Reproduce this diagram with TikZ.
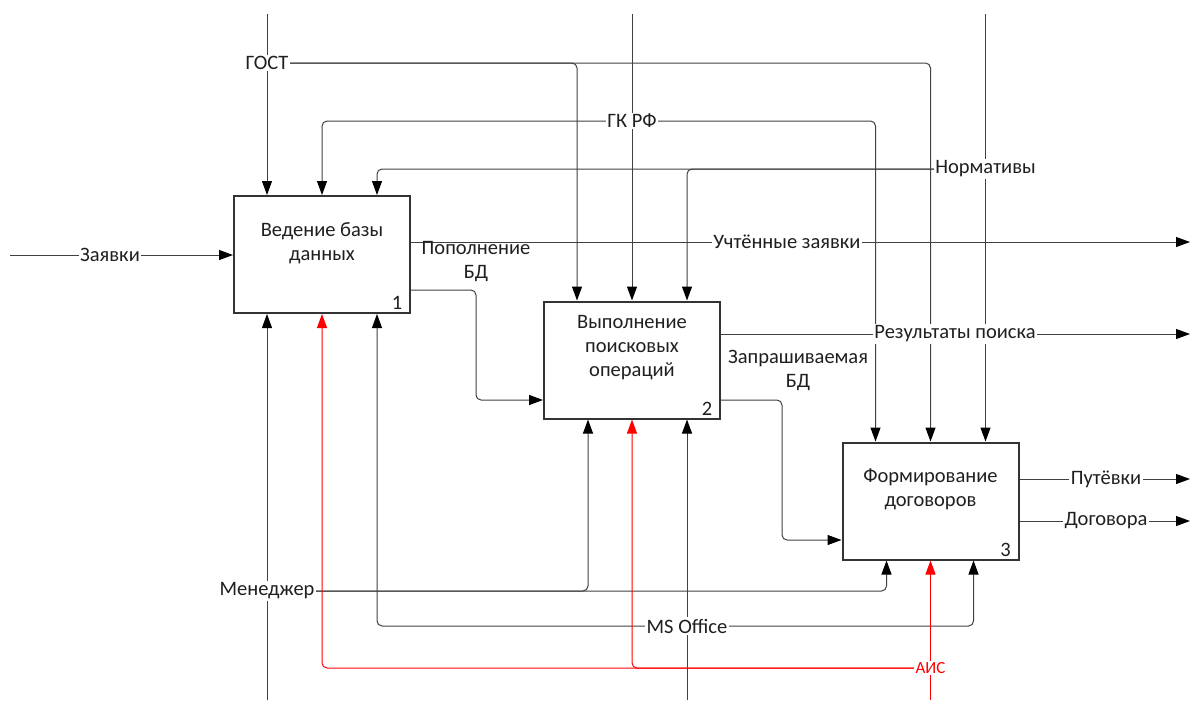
\documentclass[tikz,border=0pt]{standalone}
\usepackage{fontspec}
\setmainfont{Carlito}
\usetikzlibrary{arrows.meta,calc}
\begin{document}
\begin{tikzpicture}[x=1pt,y=-1pt,
  font=\fontsize{20.5}{24}\selectfont,
  txt/.style={text=black!88},
  conn/.style={draw=black!75, line width=1pt},
  arr/.style={conn,-{Triangle[length=14pt,width=10pt,color=black]}},
  redarr/.style={draw=red, line width=1pt,-{Triangle[length=14pt,width=10pt,color=red]}},
  rc/.style={rounded corners=5pt},
  box/.style={draw=black!80, line width=2pt, minimum width=176pt, minimum height=117pt, inner sep=0pt},
  lab/.style={txt, fill=white, inner sep=1.5pt},
  num/.style={txt, inner sep=0pt},
]
\useasboundingbox (0,0) rectangle (1193,702);

% activity boxes
\node[box] (b1) at (322,254.5) {};
\node[box] (b2) at (632,360) {};
\node[box] (b3) at (930.5,501) {};

\node[txt, align=center] (t1) at ($(b1.center)+(0,-11)$) {Ведение базы\\данных};
\node[txt, align=center] (t2) at ($(b2.center)+(0,-12)$) {Выполнение\\поисковых\\операций};
\node[txt, align=center] (t3) at ($(b3.center)+(0,-12)$) {Формирование\\договоров};

\node[num] (n1) at ($(b1.south east)+(-14,-11)$) {1};
\node[num] (n2) at ($(b2.south east)+(-14,-11)$) {2};
\node[num] (n3) at ($(b3.south east)+(-14,-11)$) {3};

% control and mechanism attachment points
\foreach \b in {1,2,3}{
  \coordinate (b\b n1) at ($(b\b.north)+(-55,0)$);
  \coordinate (b\b n2) at (b\b.north);
  \coordinate (b\b n3) at ($(b\b.north)+(55,0)$);
  \coordinate (b\b s2) at (b\b.south);
}
\coordinate (b1s1) at ($(b1.south)+(-55,0)$);
\coordinate (b1s3) at ($(b1.south)+(55,0)$);
\coordinate (b2s1) at ($(b2.south)+(-44,0)$);
\coordinate (b2s3) at ($(b2.south)+(55,0)$);
\coordinate (b3s1) at ($(b3.south)+(-44,0)$);
\coordinate (b3s3) at ($(b3.south)+(43,0)$);

% free ends and branch points
\coordinate (gT) at (267,14);    \coordinate (jG) at (267,63);
\coordinate (kT) at (632,14);    \coordinate (jK) at (632,121);
\coordinate (nT) at (985.5,14);  \coordinate (jN) at (985.5,169);
\coordinate (mB) at (267,700);   \coordinate (jM) at (267,591);
\coordinate (oB) at (687,700);   \coordinate (jO) at (687,626);
\coordinate (aB) at (930.5,700); \coordinate (jA) at (930.5,668);
\coordinate (zL) at (10,255);
\coordinate (e1) at (1190,242);
\coordinate (e2) at (1190,334);
\coordinate (e3) at (1190,479);
\coordinate (e4) at (1190,521);

% controls
\draw[arr] (gT) -- (b1n1);
\draw[arr,rc] (jG) -| (b2n1);
\draw[arr,rc] (jG) -| (b3n2);

\draw[arr] (kT) -- (b2n2);
\draw[arr,rc] (jK) -| (b1n2);
\draw[arr,rc] (jK) -| (b3n1);

\draw[arr] (nT) -- (b3n3);
\draw[arr,rc] (jN) -| (b1n3);
\draw[arr,rc] (jN) -| (b2n3);

% mechanisms
\draw[arr] (mB) -- (b1s1);
\draw[arr,rc] (jM) -| (b2s1);
\draw[arr,rc] (jM) -| (b3s1);

\draw[arr] (oB) -- (b2s3);
\draw[arr,rc] (jO) -| (b1s3);
\draw[arr,rc] (jO) -| (b3s3);

\draw[redarr] (aB) -- (b3s2);
\draw[redarr,rc] (jA) -| (b2s2);
\draw[redarr,rc] (jA) -| (b1s2);

% inputs and outputs
\draw[arr] (zL) -- (zL -| b1.west);
\draw[arr] (b1.east |- e1) -- (e1);
\draw[arr,rc] (b1.east |- 0,290) -- (476,290) -- (476,400) -- (b2.west |- 0,400);
\draw[arr] (b2.east |- e2) -- (e2);
\draw[arr,rc] (b2.east |- 0,400) -- (782,400) -- (782,540) -- (b3.west |- 0,540);
\draw[arr] (b3.east |- e3) -- (e3);
\draw[arr] (b3.east |- e4) -- (e4);

% arrow labels
\node[lab] (lG) at (jG) {ГОСТ};
\node[lab] (lK) at (jK) {ГК РФ};
\node[lab] (lN) at (jN) {Нормативы};
\node[lab] (lM) at (jM) {Менеджер};
\node[lab] (lO) at (jO) {MS Office};
\node[lab, text=red, font=\fontsize{17}{20}\selectfont] (lA) at (jA) {АИС};
\node[lab] (lZ) at (110,255) {Заявки};
\node[lab] (lU) at (787,242) {Учтённые заявки};
\node[txt, align=center] (lP) at (476,262) {Пополнение\\БД};
\node[lab] (lR) at (955,334) {Результаты поиска};
\node[txt, align=center] (lQ) at (798,370) {Запрашиваемая\\БД};
\node[lab] (lT) at (1106,479) {Путёвки};
\node[lab] (lD) at (1106,521) {Договора};
\end{tikzpicture}
\end{document}
